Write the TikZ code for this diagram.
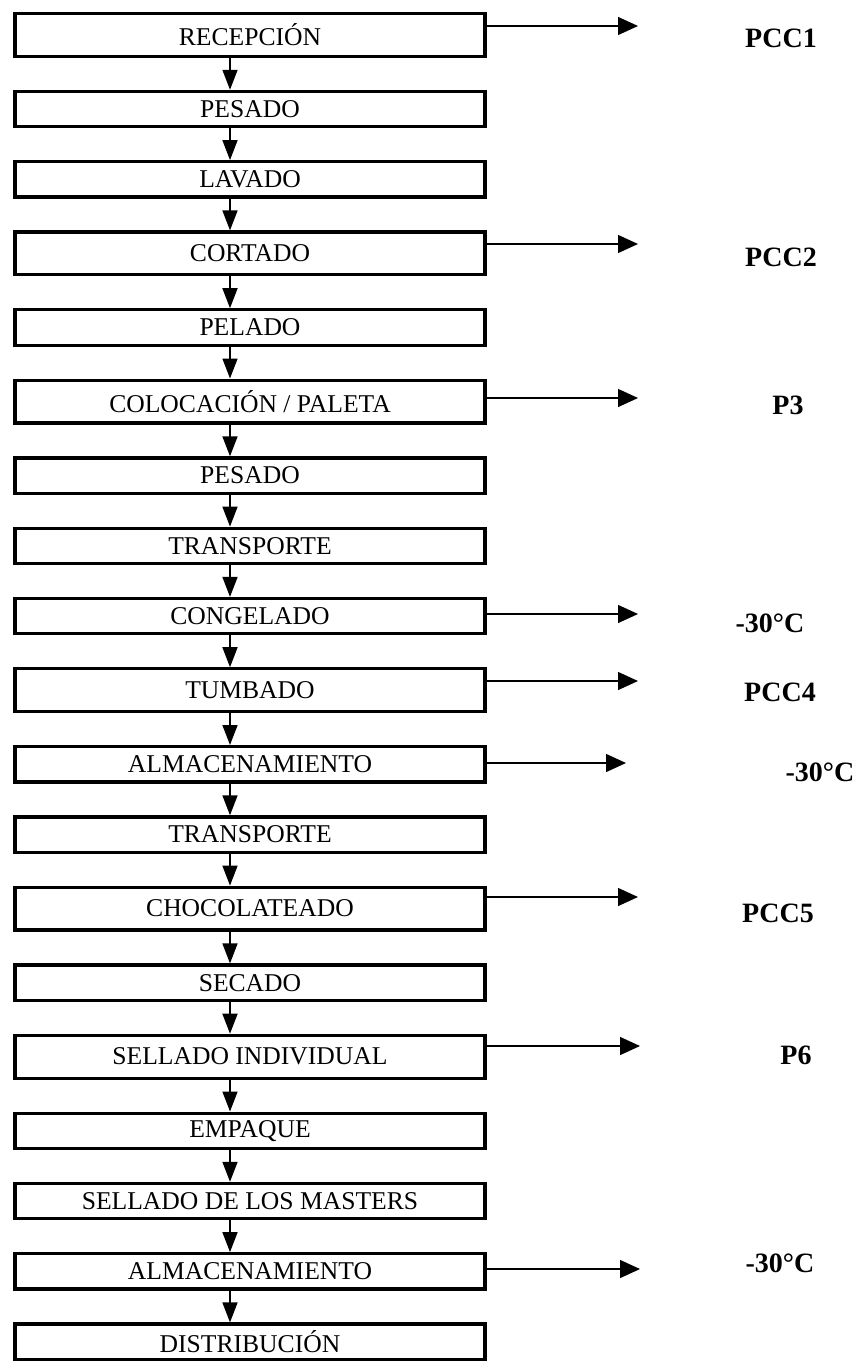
\documentclass[tikz,border=0pt]{standalone}
\usepackage{fontspec}
\setmainfont{Liberation Serif}
\usetikzlibrary{positioning, arrows.meta}

\begin{document}
\begin{tikzpicture}[
  x=0.5pt, y=-0.5pt,
  font=\fontsize{12.8}{14}\selectfont,
  node distance=15.9pt,
  stagebox/.style={
    draw=black,
    line width=1.6pt,
    rectangle,
    minimum width=235pt,
    minimum height=17.65pt,
    inner sep=0pt,
    align=center,
    text=black
  },
  tallbox/.style={stagebox, minimum height=21.4pt},
  flow/.style={-{Triangle[length=10pt, width=7.5pt]}, line width=0.8pt},
  side/.style={-{Triangle[length=10pt, width=9pt]}, line width=0.7pt},
  pccnote/.style={font=\fontsize{14}{16}\selectfont\bfseries}
]
  \useasboundingbox (0,0) rectangle (852,1364);

  % --- Process steps stacked top-down ---
  \node[tallbox]               (s1)  at (250,35) {RECEPCIÓN};
  \node[stagebox, below=of s1]  (s2)  {PESADO};
  \node[stagebox, below=of s2]  (s3)  {LAVADO};
  \node[tallbox,  below=of s3]  (s4)  {CORTADO};
  \node[stagebox, below=of s4]  (s5)  {PELADO};
  \node[tallbox,  below=of s5]  (s6)  {COLOCACIÓN / PALETA};
  \node[stagebox, below=of s6]  (s7)  {PESADO};
  \node[stagebox, below=of s7]  (s8)  {TRANSPORTE};
  \node[stagebox, below=of s8]  (s9)  {CONGELADO};
  \node[tallbox,  below=of s9]  (s10) {TUMBADO};
  \node[stagebox, below=of s10] (s11) {ALMACENAMIENTO};
  \node[stagebox, below=of s11] (s12) {TRANSPORTE};
  \node[tallbox,  below=of s12] (s13) {CHOCOLATEADO};
  \node[stagebox, below=of s13] (s14) {SECADO};
  \node[tallbox,  below=of s14] (s15) {SELLADO INDIVIDUAL};
  \node[stagebox, below=of s15] (s16) {EMPAQUE};
  \node[stagebox, below=of s16] (s17) {SELLADO DE LOS MASTERS};
  \node[stagebox, below=of s17] (s18) {ALMACENAMIENTO};
  \node[stagebox, below=of s18] (s19) {DISTRIBUCIÓN};

  % Arrows between steps
  \foreach \a/\b in {s1/s2, s2/s3, s3/s4, s4/s5, s5/s6, s6/s7, s7/s8, s8/s9,
                     s9/s10, s10/s11, s11/s12, s12/s13, s13/s14, s14/s15,
                     s15/s16, s16/s17, s17/s18, s18/s19}
    \draw[flow] ([xshift=-10pt]\a.south) -- ([xshift=-10pt]\b.north);

  % --- Side arrows to the control points ---
  \coordinate (t1)  at (638,26);
  \coordinate (t4)  at (638,244);
  \coordinate (t6)  at (638,398);
  \coordinate (t9)  at (638,614);
  \coordinate (t10) at (638,681);
  \coordinate (t11) at (626,763);
  \coordinate (t13) at (638,897);
  \coordinate (t15) at (640,1046);
  \coordinate (t18) at (640,1269);
  \foreach \s/\t in {s1/t1, s4/t4, s6/t6, s9/t9, s10/t10, s11/t11,
                     s13/t13, s15/t15, s18/t18}
    \draw[side] (\s.east |- \t) -- (\t);

  % Control point labels
  \node[pccnote] (p1)  at (781,38)   {PCC1};
  \node[pccnote] (p4)  at (781,257)  {PCC2};
  \node[pccnote] (p6)  at (788,405)  {P3};
  \node[pccnote] (p9)  at (770,623)  {-30°C};
  \node[pccnote] (p10) at (780,692)  {PCC4};
  \node[pccnote] (p11) at (820,772)  {-30°C};
  \node[pccnote] (p13) at (778,913)  {PCC5};
  \node[pccnote] (p15) at (796,1055) {P6};
  \node[pccnote] (p18) at (780,1263) {-30°C};

\end{tikzpicture}
\end{document}
